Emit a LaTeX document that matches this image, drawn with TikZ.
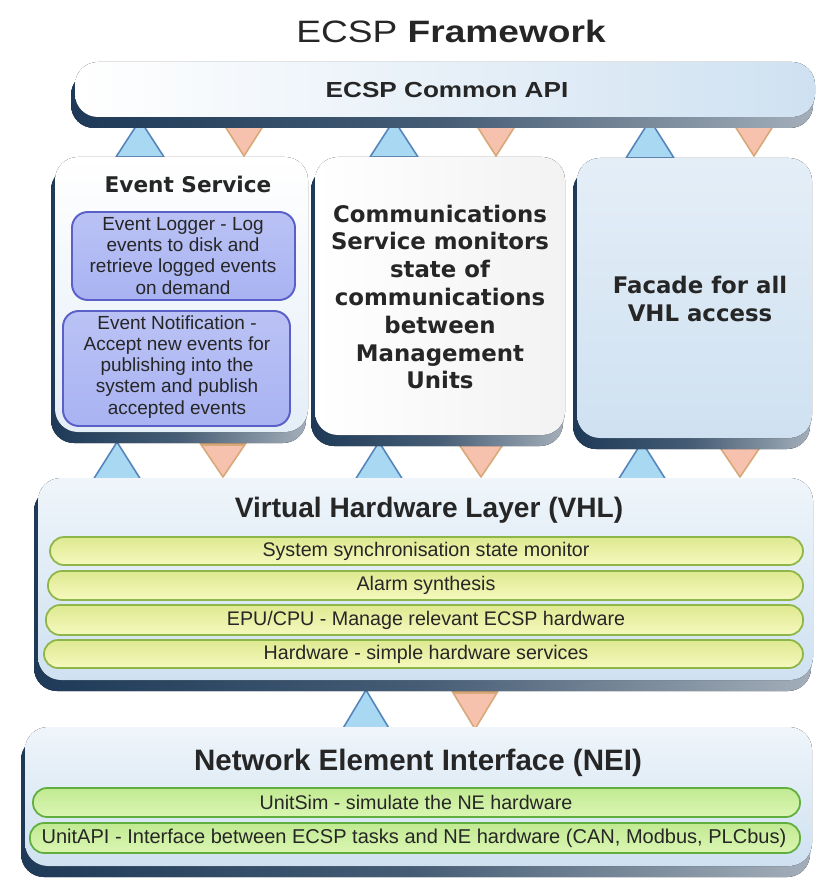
\documentclass[tikz,border=0pt]{standalone}
\usepackage{fontspec}
\setmainfont{Liberation Sans}
\newfontfamily\wideTitle[FakeStretch=1.2]{Liberation Sans}
\newfontfamily\verdanaish{DejaVu Sans}
\definecolor{navy}{HTML}{1E3A58}
\definecolor{edgegrey}{HTML}{A3AEB9}
\definecolor{paleblue}{HTML}{CFE1F1}
\definecolor{palerblue}{HTML}{E4EEF7}
\definecolor{lav}{HTML}{A9B3F2}
\definecolor{lavborder}{HTML}{5A60C8}
\definecolor{yel}{HTML}{F2F6A2}
\definecolor{yelborder}{HTML}{8DB548}
\definecolor{grn}{HTML}{D2F4A0}
\definecolor{grnborder}{HTML}{5FAE3E}
\definecolor{triblue}{HTML}{A9D9F2}
\definecolor{tribluedark}{HTML}{5585BB}
\definecolor{triorg}{HTML}{F6C2AE}
\definecolor{triorgdark}{HTML}{D8A878}
\definecolor{txt}{HTML}{262626}
\newcommand\ecspPanel[5]{%
  \fill[edge3d] (#1-4,#2+10) rectangle (#3-2,#4+11);
  \fill[#5] (#1,#2) rectangle (#3,#4);
}
\newcommand\ecspUp[3]{\draw[upt] (#1-24,#3) -- (#1,#2) -- (#1+24,#3) -- cycle;}
\newcommand\ecspDown[3]{\draw[downt] (#1-23,#2) -- (#1+23,#2) -- (#1,#3) -- cycle;
  \draw[triorgdark, line width=2pt] (#1-21,#2+1.5) -- (#1+21,#2+1.5);}
\begin{document}
\begin{tikzpicture}[x=0.02cm, y=-0.02cm,
  edge3d/.style={rounded corners=13pt, left color=navy, right color=edgegrey, middle color=navy!70!edgegrey},
  apibox/.style={rounded corners=13pt, left color=white, right color=paleblue},
  evtbox/.style={rounded corners=13pt, top color=white, bottom color=palerblue},
  combox/.style={rounded corners=13pt, left color=white, right color=black!5},
  facbox/.style={rounded corners=13pt, top color=palerblue, bottom color=paleblue},
  laybox/.style={rounded corners=13pt, top color=palerblue!60, bottom color=paleblue},
  subbox/.style={rounded corners=9pt, top color=lav!80, bottom color=lav, draw=lavborder, line width=1.1pt},
  ybar/.style={rounded corners=8pt, top color=yel!80!yelborder, bottom color=yel!70, draw=yelborder, line width=1pt},
  gbar/.style={rounded corners=8pt, top color=grn!85!grnborder, bottom color=grn!80, draw=grnborder, line width=1pt},
  upt/.style={fill=triblue, draw=tribluedark, line width=0.9pt, line join=round},
  downt/.style={fill=triorg, draw=triorgdark, line width=0.9pt, line join=round},
  hd/.style={text=txt, font=\bfseries\fontsize{16}{19}\selectfont},
  vd/.style={text=txt, align=center, font=\verdanaish\bfseries\fontsize{13}{15.8}\selectfont},
  smalltxt/.style={text=txt, align=center, font=\fontsize{10.8}{12}\selectfont},
  bartxt/.style={text=txt, font=\fontsize{11.2}{13}\selectfont}
]
\useasboundingbox (0,0) rectangle (815,885);
\fill[white] (0,0) rectangle (815,885);

% triangles (interfaces between layers)
\ecspUp{140}{120}{157}
\ecspDown{244}{120}{156}
\ecspUp{394}{120}{157}
\ecspDown{496}{120}{156}
\ecspUp{650}{120}{158}
\ecspDown{754}{120}{156}
\ecspUp{117}{442}{480}
\ecspDown{223}{443}{477}
\ecspUp{379}{442}{480}
\ecspDown{481}{443}{477}
\ecspUp{642}{442}{480}
\ecspDown{740}{443}{477}
\ecspUp{366}{690}{730}
\ecspDown{475}{691}{729}

% title
\node[text=txt] (title) at (451,31) {\wideTitle\fontsize{17.6}{20}\selectfont ECSP \bfseries Framework};

% common API
\ecspPanel{75}{62}{815}{117}{apibox}
\node[text=txt] (api) at (447,90) {\wideTitle\bfseries\fontsize{12.4}{15}\selectfont ECSP Common API};

% event service
\ecspPanel{55}{157}{308}{432}{evtbox}
\node[vd, font=\verdanaish\bfseries\fontsize{12.3}{15}\selectfont] (evt) at (188,184) {Event Service};
\path[subbox] (72,212) rectangle (295,300);
\node[smalltxt] (logger) at (183,256) {Event Logger - Log\\events to disk and\\retrieve logged events\\on demand};
\path[subbox] (63,311) rectangle (290,426);
\node[smalltxt] (notif) at (177,367) {Event Notification -\\Accept new events for\\publishing into the\\system and publish\\accepted events};

% communications service
\ecspPanel{315}{157}{565}{435}{combox}
\node[vd] (comms) at (440,297) {Communications\\Service monitors\\state of\\communications\\between\\Management\\Units};

% facade
\ecspPanel{577}{158}{812}{438}{facbox}
\node[vd] (facade) at (700,299) {Facade for all\\VHL access};

% VHL
\ecspPanel{38}{478}{813}{680}{laybox}
\node[hd] (vhl) at (429,510) {Virtual Hardware Layer (VHL)};
\path[ybar] (50,537) rectangle (803,565);
\node[bartxt] (v1) at (426,551) {System synchronisation state monitor};
\path[ybar] (48,571) rectangle (803,600);
\node[bartxt] (v2) at (426,585) {Alarm synthesis};
\path[ybar] (46,605) rectangle (803,635);
\node[bartxt] (v3) at (426,620) {EPU/CPU - Manage relevant ECSP hardware};
\path[ybar] (44,640) rectangle (803,668);
\node[bartxt] (v4) at (426,654) {Hardware - simple hardware services};

% NEI
\ecspPanel{25}{727}{812}{866}{laybox}
\node[hd, font=\bfseries\fontsize{16.8}{20}\selectfont] (nei) at (418,763) {Network Element Interface (NEI)};
\path[gbar] (33,788) rectangle (800,817);
\node[bartxt] (n1) at (416,802) {UnitSim - simulate the NE hardware};
\path[gbar] (30,823) rectangle (800,853);
\node[bartxt, font=\fontsize{11.4}{13}\selectfont] (n2) at (414,838) {UnitAPI - Interface between ECSP tasks and NE hardware (CAN, Modbus, PLCbus)};
\end{tikzpicture}
\end{document}
